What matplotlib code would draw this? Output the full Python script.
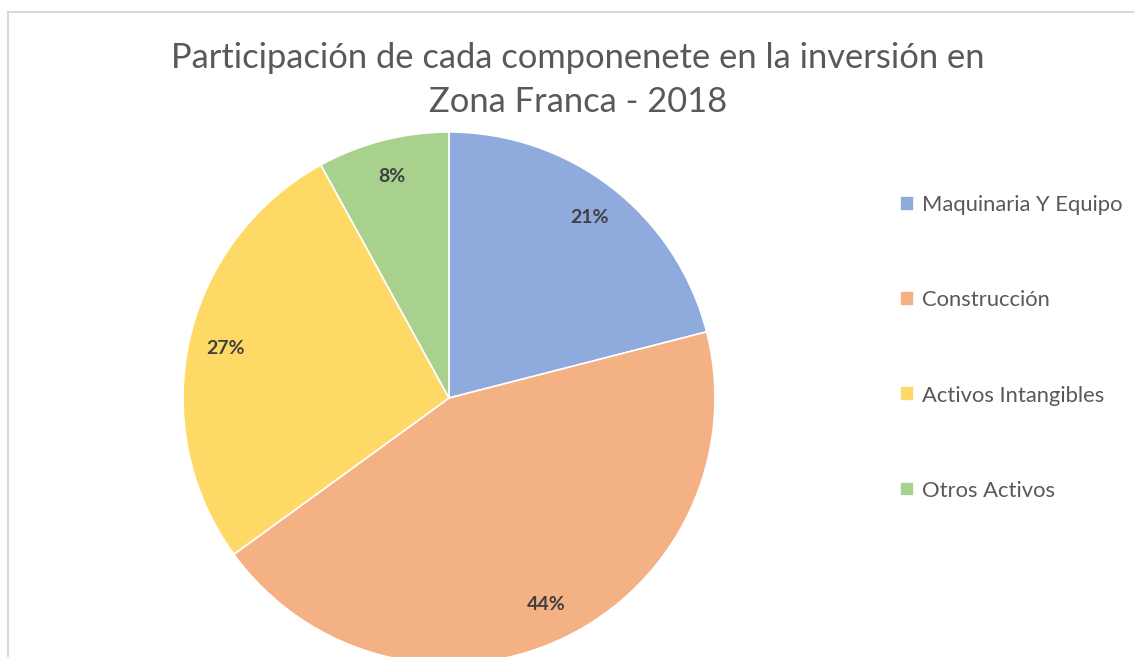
import matplotlib
matplotlib.use("Agg")
import matplotlib.pyplot as plt
from matplotlib.lines import Line2D

categories = ["Maquinaria Y Equipo", "Construcción", "Activos Intangibles", "Otros Activos"]
values = [21, 44, 27, 8]
colors = ["#8FAADC", "#F4B183", "#FFD966", "#A9D18E"]
title = "Participación de cada componenete en la inversión en\nZona Franca - 2018"

W, H = 1134, 657
fig = plt.figure(figsize=(W / 100, H / 100), dpi=100)
plt.rcParams["font.family"] = ["Lato", "DejaVu Sans"]

# frame
fig.add_artist(Line2D([8 / W, 1], [1 - 12 / H, 1 - 12 / H], color="#D9D9D9", lw=1.5, transform=fig.transFigure))
fig.add_artist(Line2D([8 / W, 8 / W], [0, 1 - 12 / H], color="#D9D9D9", lw=1.5, transform=fig.transFigure))

cx, cy, r = 449, H - 398, 266
ax = fig.add_axes([(cx - r) / W, (cy - r) / H, 2 * r / W, 2 * r / H])
wedges, texts, autotexts = ax.pie(
    values, colors=colors, startangle=90, counterclock=False,
    autopct="%1.0f%%", pctdistance=0.86,
    wedgeprops=dict(edgecolor="white", linewidth=1.2),
    textprops=dict(fontsize=14, fontweight="bold", color="#404040"),
)
ax.set_xlim(-1, 1)
ax.set_ylim(-1, 1)
ax.set_aspect("equal")
ax.axis("off")

fig.text(578 / W, 1 - 80 / H, title, ha="center", va="center", fontsize=24.8,
         color="#595959", linespacing=1.45)

leg = fig.legend(wedges, categories, loc="center left", bbox_to_anchor=(880 / W, 1 - 348 / H),
                 frameon=False, fontsize=15.8, labelcolor="#595959",
                 handlelength=0.65, handleheight=0.65, handletextpad=0.35, labelspacing=3.42)

fig.savefig("out.png", dpi=100)
